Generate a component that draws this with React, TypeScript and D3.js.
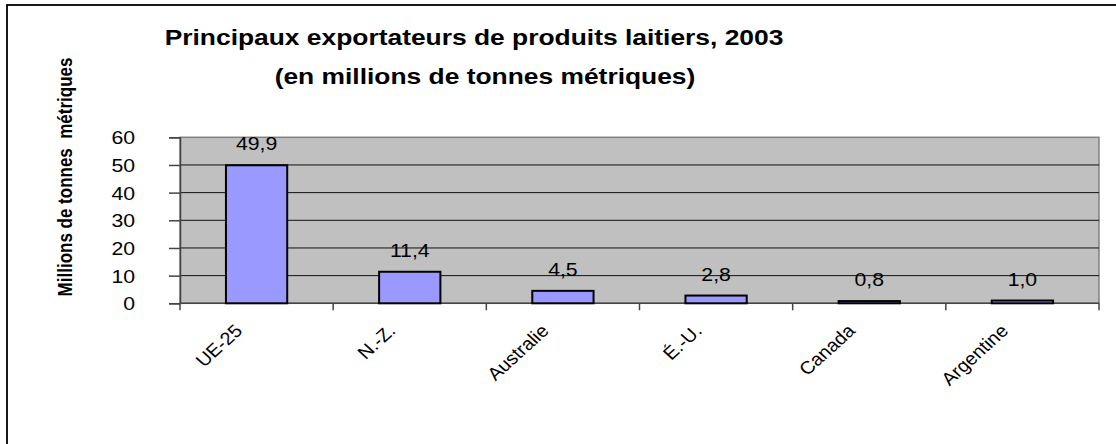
import React, { useEffect, useRef } from "react";
import * as d3 from "d3";

const categories = ["UE-25", "N.-Z.", "Australie", "É.-U.", "Canada", "Argentine"];
const values = [49.9, 11.4, 4.5, 2.8, 0.8, 1.0];
const yTicks = [0, 10, 20, 30, 40, 50, 60];
const titleLines = [
  "Principaux exportateurs de produits laitiers, 2003",
  "(en millions de tonnes métriques)",
];
const yTitle = "Millions de tonnes  métriques";

export default function App() {
  const ref = useRef<SVGSVGElement | null>(null);

  useEffect(() => {
    const width = 1116;
    const height = 444;
    const plot = { left: 180, right: 1099, top: 137.3, bottom: 303.3 };
    const font = "Arial, 'Liberation Sans', sans-serif";
    // the original picture is a bit wider than tall, so horizontal text is stretched
    const sx = 1.18;

    const svg = d3.select(ref.current);
    svg.selectAll("*").remove();
    svg.attr("width", width).attr("height", height);

    svg.append("rect").attr("width", width).attr("height", height).attr("fill", "#fff");

    // outer chart border (cut off at right and bottom)
    svg.append("rect")
      .attr("x", 7).attr("y", 5)
      .attr("width", width + 20).attr("height", height + 20)
      .attr("fill", "none").attr("stroke", "#000").attr("stroke-width", 1.8);

    const x = d3.scaleBand().domain(categories).range([plot.left, plot.right]).paddingInner(0);
    const y = d3.scaleLinear().domain([0, 60]).range([plot.bottom, plot.top]);

    // plot area
    svg.append("rect")
      .attr("x", plot.left).attr("y", plot.top)
      .attr("width", plot.right - plot.left).attr("height", plot.bottom - plot.top)
      .attr("fill", "#c0c0c0").attr("stroke", "#808080").attr("stroke-width", 1.5);

    // gridlines
    svg.append("g")
      .selectAll("line")
      .data(yTicks.filter(t => t > 0 && t < 60))
      .join("line")
      .attr("x1", plot.left).attr("x2", plot.right)
      .attr("y1", d => y(d)).attr("y2", d => y(d))
      .attr("stroke", "#111").attr("stroke-width", 1);

    // y axis
    const yAxis = svg.append("g")
      .attr("transform", `translate(${plot.left},0)`)
      .call(d3.axisLeft(y).tickValues(yTicks).tickSize(11).tickPadding(35).tickFormat(d3.format("d")));
    yAxis.select(".domain").attr("stroke", "#444").attr("stroke-width", 1.5);
    yAxis.selectAll(".tick line").attr("stroke", "#444").attr("stroke-width", 1.5);
    yAxis.selectAll(".tick text")
      .attr("x", 0)
      .attr("transform", `translate(-45,0) scale(${sx},1)`)
      .attr("font-family", font).attr("font-size", 18).attr("fill", "#000")
      .attr("dy", "0.36em");

    // x axis line and category ticks
    svg.append("line")
      .attr("x1", plot.left).attr("x2", plot.right)
      .attr("y1", plot.bottom).attr("y2", plot.bottom)
      .attr("stroke", "#444").attr("stroke-width", 1.5);
    const edges = categories.map(c => x(c) as number).concat([plot.right]);
    svg.append("g")
      .selectAll("line")
      .data(edges)
      .join("line")
      .attr("x1", d => d).attr("x2", d => d)
      .attr("y1", plot.bottom).attr("y2", plot.bottom + 7)
      .attr("stroke", "#444").attr("stroke-width", 1.5);

    // bars
    const barW = x.bandwidth() * 0.4;
    svg.append("g")
      .selectAll("rect")
      .data(values)
      .join("rect")
      .attr("x", (d, i) => (x(categories[i]) as number) + (x.bandwidth() - barW) / 2)
      .attr("y", d => y(d))
      .attr("width", barW)
      .attr("height", d => y(0) - y(d))
      .attr("fill", "#9999ff")
      .attr("stroke", "#000")
      .attr("stroke-width", 2);

    // value labels
    const fmt = (v: number) => d3.format(".1f")(v).replace(".", ",");
    svg.append("g")
      .selectAll("text")
      .data(values)
      .join("text")
      .attr("transform", (d, i) =>
        `translate(${(x(categories[i]) as number) + x.bandwidth() / 2},${y(d) - 15}) scale(${sx},1)`)
      .attr("text-anchor", "middle")
      .attr("font-family", font).attr("font-size", 18)
      .text(d => fmt(d));

    // category labels
    svg.append("g")
      .selectAll("text")
      .data(categories)
      .join("text")
      .attr("transform", d =>
        `translate(${(x(d) as number) + x.bandwidth() / 2 - 13},332) scale(1.1,1) rotate(-45)`)
      .attr("text-anchor", "end")
      .attr("font-family", font).attr("font-size", 18)
      .text(d => d);

    // title
    const titleCenters = [474, 485];
    svg.append("g")
      .selectAll("text")
      .data(titleLines)
      .join("text")
      .attr("transform", (d, i) => `translate(${titleCenters[i]},${45 + i * 39}) scale(1.2,1)`)
      .attr("text-anchor", "middle")
      .attr("font-family", font).attr("font-size", 22).attr("font-weight", "bold")
      .text(d => d);

    // y axis title
    svg.append("text")
      .attr("transform", `translate(72,177) scale(${sx},1) rotate(-90)`)
      .attr("text-anchor", "middle")
      .attr("font-family", font).attr("font-size", 17).attr("font-weight", "bold")
      .attr("xml:space", "preserve")
      .style("white-space", "pre")
      .text(yTitle);
  }, []);

  return (
    <svg ref={ref} style={{ position: "absolute", left: 0, top: 0, display: "block" }} />
  );
}
